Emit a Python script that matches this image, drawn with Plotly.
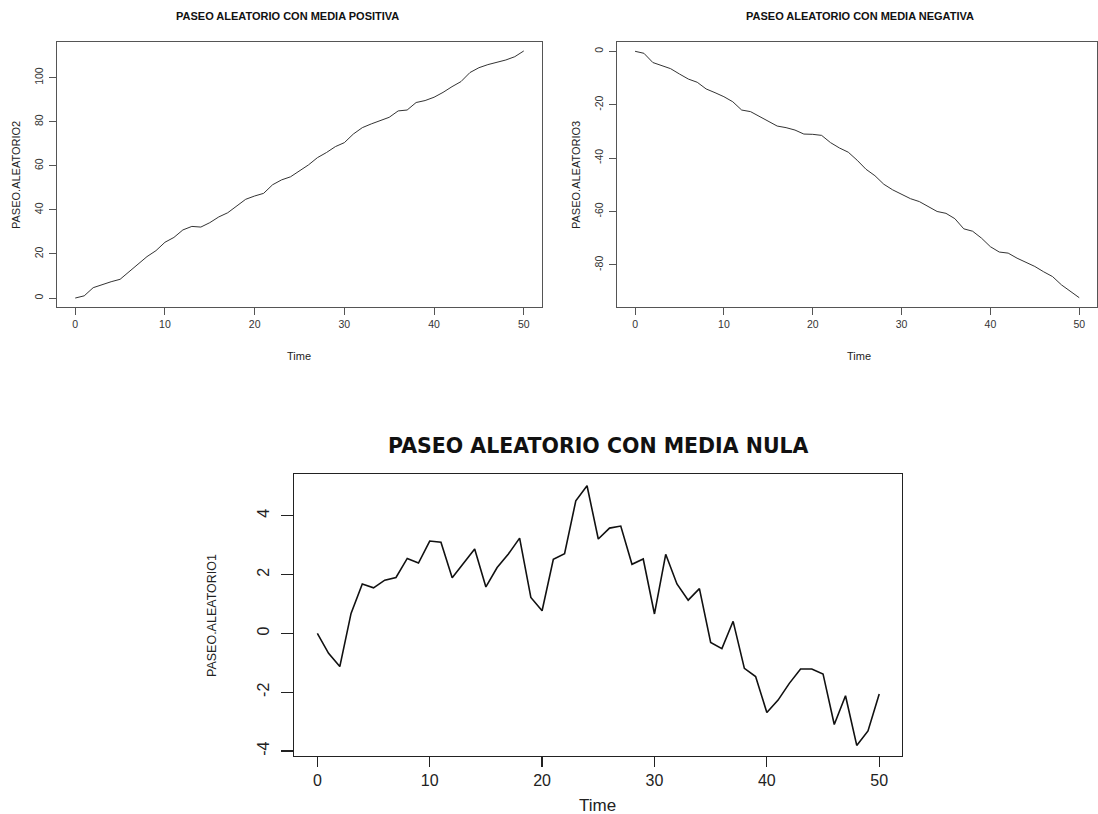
import plotly.graph_objects as go

W, H = 1098, 814

time = list(range(51))

paseo_aleatorio2 = [0, 1.0, 4.7, 6.2, 7.4, 8.5, 12.0, 15.4, 18.8, 21.5,
                    25.3, 27.5, 30.9, 32.5, 32.2, 34.2, 36.8, 38.7, 41.8, 44.8,
                    46.3, 47.5, 51.4, 53.6, 55.0, 57.8, 60.4, 63.7, 66.0, 68.7,
                    70.5, 74.4, 77.3, 79.0, 80.5, 82.0, 84.9, 85.3, 88.7, 89.6,
                    91.1, 93.3, 95.9, 98.2, 102.3, 104.5, 105.9, 107.0, 108.0, 109.5,
                    112.1]

paseo_aleatorio3 = [0, -0.75, -4.2, -5.5, -6.5, -8.5, -10.4, -11.6, -14.1, -15.5,
                    -17.0, -18.9, -22.0, -22.6, -24.5, -26.2, -28.0, -28.6, -29.5, -31.0,
                    -31.1, -31.5, -34.2, -36.2, -37.8, -40.8, -44.2, -46.6, -49.8, -51.9,
                    -53.7, -55.2, -56.3, -58.2, -60.0, -60.7, -62.7, -66.5, -67.4, -70.0,
                    -73.2, -75.2, -75.6, -77.5, -79.1, -80.6, -82.6, -84.4, -87.5, -90.0,
                    -92.3]

paseo_aleatorio1 = [0, -0.68, -1.13, 0.68, 1.68, 1.55, 1.81, 1.9, 2.55, 2.39,
                    3.14, 3.1, 1.89, 2.38, 2.87, 1.58, 2.24, 2.7, 3.24, 1.22,
                    0.77, 2.52, 2.71, 4.51, 5.02, 3.21, 3.58, 3.65, 2.35, 2.53,
                    0.66, 2.69, 1.68, 1.13, 1.52, -0.31, -0.52, 0.41, -1.19, -1.47,
                    -2.69, -2.27, -1.7, -1.21, -1.21, -1.38, -3.1, -2.12, -3.81, -3.32,
                    -2.06]

x_ticks = [0, 10, 20, 30, 40, 50]
y2_ticks = [0, 20, 40, 60, 80, 100]
y3_ticks = [0, -20, -40, -60, -80]
y1_ticks = [-4, -2, 0, 2, 4]


def fx(px):
    return px / W


def fy(py):
    return 1 - py / H


fig = go.Figure()

fig.add_trace(go.Scatter(x=time, y=paseo_aleatorio2, mode="lines",
                         line=dict(color="#333333", width=1), xaxis="x", yaxis="y",
                         showlegend=False, hoverinfo="skip"))
fig.add_trace(go.Scatter(x=time, y=paseo_aleatorio3, mode="lines",
                         line=dict(color="#333333", width=1), xaxis="x2", yaxis="y2",
                         showlegend=False, hoverinfo="skip"))
fig.add_trace(go.Scatter(x=time, y=paseo_aleatorio1, mode="lines",
                         line=dict(color="#111111", width=1.6), xaxis="x3", yaxis="y3",
                         showlegend=False, hoverinfo="skip"))

small_font = dict(family="Liberation Sans, Arial, sans-serif", size=10.5, color="#333333")
big_font = dict(family="Liberation Sans, Arial, sans-serif", size=16, color="#222222")


def xaxis(domain, anchor, rng, font, ticklen, linecolor, lw):
    return dict(domain=domain, anchor=anchor, range=rng, tickvals=x_ticks,
                ticktext=[str(v) for v in x_ticks], ticks="outside", ticklen=ticklen,
                tickcolor=linecolor, tickwidth=lw, showline=True, linecolor=linecolor,
                linewidth=lw, mirror=True, showgrid=False, zeroline=False,
                tickfont=font, fixedrange=True)


def yaxis(domain, anchor, rng, vals, font, ticklen, linecolor, lw, standoff):
    return dict(domain=domain, anchor=anchor, range=rng, tickvals=vals,
                ticktext=[str(v) for v in vals], ticks="outside", ticklen=ticklen,
                tickcolor=linecolor, tickwidth=lw, showline=True, linecolor=linecolor,
                linewidth=lw, mirror=True, showgrid=False, zeroline=False,
                tickfont=font, tickangle=-90, ticklabelstandoff=standoff, fixedrange=True)


fig.update_layout(
    width=W, height=H,
    margin=dict(l=0, r=0, t=0, b=0),
    paper_bgcolor="white", plot_bgcolor="white",
    xaxis=xaxis([fx(57.3), fx(541.7)], "y", [-2.0, 52.0], small_font, 7, "#555555", 1),
    yaxis=yaxis([fy(307.3), fy(41.7)], "x", [-4.2, 116.3], y2_ticks, small_font, 7, "#555555", 1, 2),
    xaxis2=xaxis([fx(617.3), fx(1097)], "y2", [-2.0, 52.0], small_font, 7, "#555555", 1),
    yaxis2=yaxis([fy(307.3), fy(41.7)], "x2", [-95.9, 3.6], y3_ticks, small_font, 7, "#555555", 1, 2),
    xaxis3=xaxis([fx(294.3), fx(901.7)], "y3", [-2.05, 52.0], big_font, 10, "#222222", 1.3),
    yaxis3=yaxis([fy(755.7), fy(474.0)], "x3", [-4.16, 5.42], y1_ticks, big_font, 12, "#222222", 1.3, 6),
)

ann = []


def add_text(text, px, py, font, angle=0):
    ann.append(dict(text=text, x=fx(px), y=fy(py), xref="paper", yref="paper",
                    showarrow=False, xanchor="center", yanchor="middle",
                    textangle=angle, font=font))


title_font = dict(family="Liberation Sans, Arial, sans-serif", size=11, color="#111111", weight="bold")
label_font = dict(family="Liberation Sans, Arial, sans-serif", size=11, color="#222222")

add_text("PASEO ALEATORIO CON MEDIA POSITIVA", 287, 16, title_font)
add_text("PASEO ALEATORIO CON MEDIA NEGATIVA", 860, 16, title_font)
add_text("Time", 299, 356, label_font)
add_text("Time", 859, 356, label_font)
add_text("PASEO.ALEATORIO2", 16, 175, label_font, -90)
add_text("PASEO.ALEATORIO3", 576, 175, label_font, -90)

add_text("PASEO ALEATORIO CON MEDIA NULA", 598, 446,
         dict(family="DejaVu Sans, sans-serif", size=20.5, color="#111111", weight="bold"))
add_text("Time", 597, 805, dict(family="Liberation Sans, Arial, sans-serif", size=17, color="#222222"))
add_text("PASEO.ALEATORIO1", 212, 616,
         dict(family="Liberation Sans, Arial, sans-serif", size=12.5, color="#222222"), -90)

fig.update_layout(annotations=ann)

fig.write_html("out.html",
               config={"displayModeBar": False, "staticPlot": True},
               post_script="document.body.style.margin='0';document.body.style.padding='0';"
                           "document.documentElement.style.overflow='hidden';")
